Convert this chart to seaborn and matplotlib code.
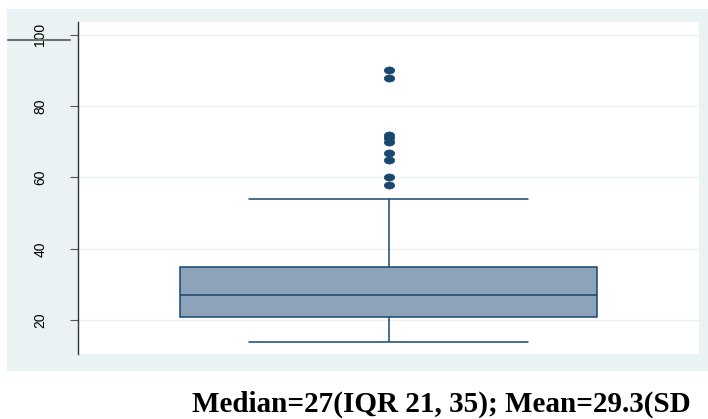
import matplotlib
matplotlib.use("Agg")
import matplotlib.pyplot as plt
import seaborn as sns
import pandas as pd
from matplotlib.patches import Rectangle
from matplotlib.lines import Line2D
from matplotlib.path import Path
from matplotlib.transforms import Affine2D

# Sample reproducing the read-off summary: whiskers 14-54, Q1 21, median 27, Q3 35
lower_values = [14, 15, 16, 17, 18, 18, 19, 20, 20, 20, 21]
middle_values = [22, 22, 23, 24, 24, 25, 25, 26, 26, 27,
                 28, 29, 29, 30, 31, 32, 33, 34, 34, 35]
upper_whisker = [54]
outliers = [58, 60, 65, 67, 70, 71, 72, 88, 90]
yticks = [20, 40, 60, 80, 100]
caption = "Median=27(IQR 21, 35); Mean=29.3(SD"

values = lower_values + middle_values + upper_whisker + outliers
df = pd.DataFrame({"value": values})

sns.set_theme(style="white")
plt.rcParams["font.family"] = ["Liberation Sans", "DejaVu Sans"]

navy = "#1a476f"
fill = "#8da3b9"
bg = "#eaf2f3"

ellipse = Path.unit_circle().transformed(Affine2D().scale(1.0, 0.68))

fig = plt.figure(figsize=(7.08, 4.19), dpi=100)
fig.patch.set_facecolor("white")
fig.patches.append(Rectangle((7/708, 1-371/419), 701/708, (371-9)/419,
                             transform=fig.transFigure, facecolor=bg,
                             edgecolor="none", zorder=-10))

ax = fig.add_axes([78/708, 1-354/419, 621/708, 332/419])
ax.set_zorder(1)
ax.set_facecolor("white")

sns.boxplot(data=df, y="value", ax=ax, width=0.673, whis=1.5,
            color=fill, linecolor=navy, linewidth=1.1, saturation=1,
            capwidths=0.45,
            flierprops=dict(marker=ellipse, markerfacecolor=navy,
                            markeredgecolor=navy, markersize=7.5,
                            markeredgewidth=0.5))

ax.set_xlim(-0.5, 0.5)
ax.set_ylim(10.5, 103.6)
ax.set_yticks(yticks)
ax.set_yticklabels([str(t) for t in yticks], rotation=90, va="center",
                   fontsize=10)
ax.set_xticks([])
ax.set_xlabel("")
ax.set_ylabel("")
for y in yticks:
    ax.axhline(y, color=bg, lw=1, zorder=0)
for s in ["top", "right", "bottom"]:
    ax.spines[s].set_visible(False)
ax.spines["left"].set_color("#333333")
ax.spines["left"].set_linewidth(1)
ax.tick_params(axis="y", which="both", left=True, length=6, width=0.8,
               color="#555555", pad=16, labelcolor="black")

fig.lines.append(Line2D([8/708, 70/708], [1-40/419, 1-40/419],
                        transform=fig.transFigure, color="#707070", lw=1.5,
                        zorder=5))

fig.text(441/708, 1-412/419, caption, ha="center", va="baseline",
         fontsize=21, fontweight="bold", color="black",
         family=["Liberation Serif"])

fig.savefig("out.png", dpi=100, facecolor="white")
